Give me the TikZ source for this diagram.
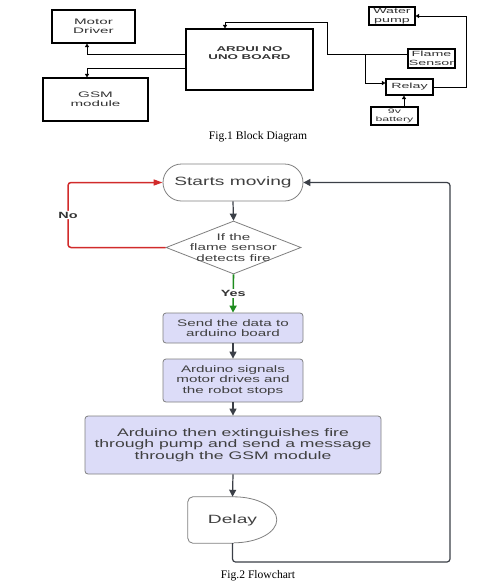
\documentclass[tikz,border=0pt]{standalone}
\usepackage{fontspec}
\setmainfont{Liberation Serif}
\newfontfamily\flowfont[FakeStretch=1.6]{Liberation Sans}
\newfontfamily\blkfont[FakeStretch=1.9]{Liberation Sans}
\usetikzlibrary{arrows.meta,shapes.geometric}
\definecolor{arrowgray}{HTML}{3B3F47}
\definecolor{edgegray}{HTML}{7F7F7F}
\definecolor{boxfill}{HTML}{DCDCF8}
\definecolor{noline}{HTML}{D12B2B}
\definecolor{yesline}{HTML}{1E8C1E}
\tikzset{
  blkbox/.style={draw, line width=1.1pt, inner sep=0pt, align=center, text=black!80},
  blkarrow/.style={line width=1pt, -{Triangle[length=3.5pt,width=4pt]}},
  flowarrow/.style={draw=arrowgray, line width=1.2pt, -{Triangle[length=7pt,width=7pt]}},
  procbox/.style={draw=edgegray, fill=boxfill, line width=0.8pt, rounded corners=3pt, align=center, text=black!75, font=\flowfont\fontsize{9.5}{10.2}\selectfont},
  flowlabel/.style={fill=white, inner sep=1pt, text=black!80, font=\flowfont\bfseries\fontsize{9}{10}\selectfont},
}
\begin{document}
\begin{tikzpicture}[x=1pt,y=-1pt]
    \useasboundingbox (0,0) rectangle (481,587);

    % block diagram
    \node[blkbox, minimum width=83, minimum height=33, font=\blkfont\fontsize{8}{9.5}\selectfont] (motor) at (93.5,26.5) {Motor\\Driver};
    \node[blkbox, minimum width=105, minimum height=43, font=\blkfont\fontsize{8}{9}\selectfont] (gsm) at (95.5,99.5) {GSM\\module};
    \node[blkbox, minimum width=127, minimum height=61] (ard) at (249.5,59.5) {};
    \node[align=center, text=black!80, font=\blkfont\bfseries\fontsize{7}{8}\selectfont] (ardtext) at ([yshift=6.5pt]ard.center) {ARDUI NO\\UNO BOARD};
    \node[blkbox, minimum width=46, minimum height=18, font=\blkfont\fontsize{7.5}{9.5}\selectfont] (pump) at (392,16) {Water\\pump};
    \node[blkbox, minimum width=47, minimum height=19, font=\blkfont\fontsize{7.5}{9}\selectfont] (flame) at (431.5,58.5) {Flame\\Sensor};
    \node[blkbox, minimum width=47, minimum height=16, font=\blkfont\fontsize{7.5}{9}\selectfont] (relay) at (409.5,87) {Relay};
    \node[blkbox, minimum width=47, minimum height=18, font=\blkfont\fontsize{6.5}{7.5}\selectfont] (batt) at (394.5,116) {9v\\battery};
    \coordinate (jn) at (365,54);

    \draw[blkarrow] ([yshift=5.5pt]ard.west) -| ([xshift=-6.5pt]motor.south);
    \draw[blkarrow] ([yshift=-8.5pt]ard.west) -| ([xshift=-8.5pt]gsm.north);
    \draw[blkarrow] ([yshift=4.5pt]flame.west) -| (327,22) -| ([xshift=-24.5pt]ard.north);
    \draw[blkarrow] (jn) |- ([yshift=4pt]relay.west);
    \draw[blkarrow] (relay.east) -- (466,87) |- (pump.east);
    \draw[blkarrow] ([xshift=9.5pt]batt.north) -- ([xshift=-5.5pt]relay.south);

    \node[font=\fontsize{11.6}{13}\selectfont] (cap1) at (258,137) {Fig.1 Block Diagram};

    % flowchart
    \node[draw=edgegray, line width=0.8pt, rounded corners=18.5pt, minimum width=140, minimum height=37, text=black!75, font=\flowfont\fontsize{12}{14}\selectfont] (start) at (233,182.5) {Starts moving};
    \node[diamond, draw=edgegray, line width=0.8pt, minimum width=135, minimum height=53, inner sep=0pt] (dec) at (233.5,247.5) {};
    \node[align=center, text=black!75, font=\flowfont\fontsize{9.5}{10.2}\selectfont] (dectext) at (dec) {If the\\flame sensor\\detects fire};
    \node[procbox, minimum width=140, minimum height=30] (send) at (233,328) {Send the data to\\arduino board};
    \node[procbox, minimum width=140, minimum height=43] (stop) at (233,380.5) {Arduino signals\\motor drives and\\the robot stops};
    \node[procbox, minimum width=296, minimum height=58, font=\flowfont\fontsize{11}{11.4}\selectfont] (pumpmsg) at (233,445) {Arduino then extinguishes fire\\through pump and send a message\\through the GSM module};
    \node[minimum width=89, minimum height=46, inner sep=0pt, text=black!75, font=\flowfont\fontsize{12}{14}\selectfont] (dly) at (232.5,520) {Delay};
    \draw[draw=edgegray, line width=0.8pt, rounded corners=5pt] ([xshift=46pt]dly.north west) -- (dly.north west) -- (dly.south west) -- ([xshift=46pt]dly.south west);
    \draw[draw=edgegray, line width=0.8pt] ([xshift=46pt]dly.north west) arc[start angle=90, end angle=-90, x radius=43pt, y radius=23pt];

    \draw[flowarrow] (start.south) -- (dec.north);
    \draw[draw=yesline, line width=1.6pt, -{Triangle[length=7pt,width=7pt]}] (dec.south) -- (send.north) node[midway, flowlabel] (yes) {Yes};
    \draw[draw=noline, line width=1.5pt, rounded corners=3pt, -{Triangle[length=9pt,width=6pt]}] (dec.west) -- (68,247.5) |- (start.west) node[pos=0.25, flowlabel] (no) {No};
    \draw[flowarrow] (send.south) -- (stop.north);
    \draw[flowarrow] (stop.south) -- (pumpmsg.north);
    \draw[flowarrow] (pumpmsg.south) -- (dly.north);
    \draw[flowarrow, rounded corners=3pt] (dly.south) |- (450,562) |- (start.east);

    \node[font=\fontsize{11.6}{13}\selectfont] (cap2) at (258,576) {Fig.2 Flowchart};
\end{tikzpicture}
\end{document}
